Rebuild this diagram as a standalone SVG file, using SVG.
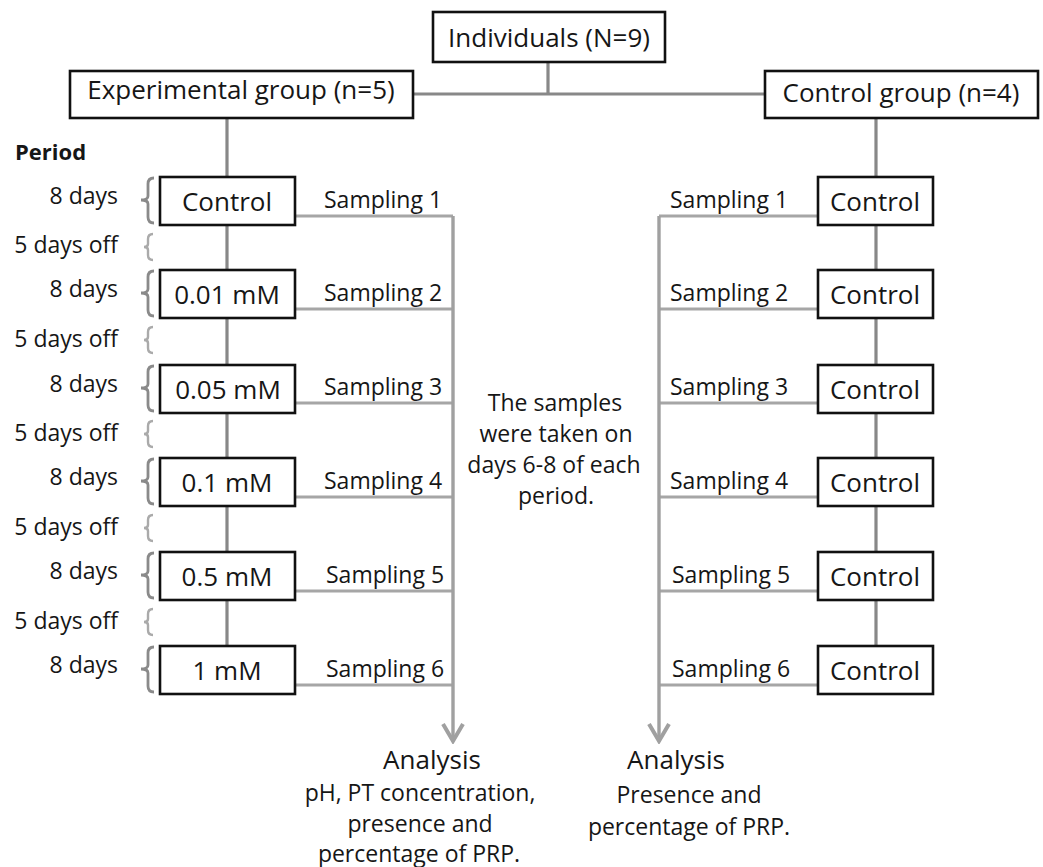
<svg xmlns="http://www.w3.org/2000/svg" width="1043" height="867" viewBox="0 0 1043 867">
<style>
text{font-family:"Open Sans","Noto Sans","Liberation Sans",sans-serif;fill:#161616}
.big{font-size:26px}
.sm{font-size:23px}
.mid{text-anchor:middle}
.end{text-anchor:end}
.box{fill:#fff;stroke:#111;stroke-width:2.6}
.main{stroke:#888;stroke-width:3.2;fill:none}
.samp{stroke:#a6a6a6;stroke-width:3.2;fill:none}
.arr{stroke:#a0a0a0;stroke-width:3.4;fill:none}
.br8{stroke:#8a8a8a;stroke-width:2.8;fill:none}
.br5{stroke:#aaaaaa;stroke-width:2.4;fill:none}
</style>
<defs>
<marker id="ah" markerUnits="userSpaceOnUse" viewBox="0 0 22 24" refX="19" refY="12" markerWidth="22" markerHeight="24" orient="auto">
<path d="M2,2 L19,12 L2,22" fill="none" stroke="#a0a0a0" stroke-width="4" stroke-linejoin="miter"/>
</marker>
</defs>
<rect width="1043" height="867" fill="#fff"/>

<g id="connectors">
<path class="main" d="M548,62 V94 M413,94 H765"/>
<path class="main" d="M227,118 V646"/>
<path class="main" d="M876,118 V646"/>
<path class="samp" d="M295,216 H453 M295,309 H453 M295,403 H453 M295,497 H453 M295,591 H453 M295,685 H453"/>
<path class="arr" d="M453,216 V741" marker-end="url(#ah)"/>
<path class="samp" d="M818,216 H659 M818,309 H659 M818,403 H659 M818,497 H659 M818,591 H659 M818,685 H659"/>
<path class="arr" d="M659,216 V741" marker-end="url(#ah)"/>
</g>

<g id="brackets">
<path class="br8" d="M154,178 Q148,178 148,184 V196 Q148,200 141,200 Q148,200 148,204 V217 Q148,223 154,223"/>
<path class="br8" d="M154,271 Q148,271 148,277 V289 Q148,293 141,293 Q148,293 148,297 V310 Q148,316 154,316"/>
<path class="br8" d="M154,366 Q148,366 148,372 V384 Q148,388 141,388 Q148,388 148,392 V405 Q148,411 154,411"/>
<path class="br8" d="M154,459 Q148,459 148,465 V477 Q148,481 141,481 Q148,481 148,485 V498 Q148,504 154,504"/>
<path class="br8" d="M154,553 Q148,553 148,559 V571 Q148,575 141,575 Q148,575 148,579 V592 Q148,598 154,598"/>
<path class="br8" d="M154,647 Q148,647 148,653 V665 Q148,669 141,669 Q148,669 148,673 V686 Q148,692 154,692"/>
<path class="br5" d="M153,234 Q148,234 148,239 V244 Q148,247 144,247 Q148,247 148,250 V255 Q148,260 153,260"/>
<path class="br5" d="M153,327 Q148,327 148,332 V337 Q148,340 144,340 Q148,340 148,343 V348 Q148,353 153,353"/>
<path class="br5" d="M153,421 Q148,421 148,426 V431 Q148,434 144,434 Q148,434 148,437 V442 Q148,447 153,447"/>
<path class="br5" d="M153,515 Q148,515 148,520 V525 Q148,528 144,528 Q148,528 148,531 V536 Q148,541 153,541"/>
<path class="br5" d="M153,609 Q148,609 148,614 V619 Q148,622 144,622 Q148,622 148,625 V630 Q148,635 153,635"/>
</g>

<g id="individuals"><rect class="box" x="433" y="12" width="232" height="50"/><text class="big mid" x="549" y="47">Individuals (N=9)</text></g>
<g id="experimental-group"><rect class="box" x="70" y="71" width="343" height="47"/><text class="big mid" x="241" y="99">Experimental group (n=5)</text></g>
<g id="control-group"><rect class="box" x="765" y="71" width="273" height="47"/><text class="big mid" x="901" y="102">Control group (n=4)</text></g>

<text id="period" x="15" y="160" style="font-size:22px;font-weight:bold">Period</text>

<g id="period-labels" class="sm">
<text class="sm end" x="118" y="204">8 days</text>
<text class="sm end" x="118" y="253">5 days off</text>
<text class="sm end" x="118" y="297">8 days</text>
<text class="sm end" x="118" y="347">5 days off</text>
<text class="sm end" x="118" y="392">8 days</text>
<text class="sm end" x="118" y="441">5 days off</text>
<text class="sm end" x="118" y="485">8 days</text>
<text class="sm end" x="118" y="535">5 days off</text>
<text class="sm end" x="118" y="579">8 days</text>
<text class="sm end" x="118" y="629">5 days off</text>
<text class="sm end" x="118" y="673">8 days</text>
</g>

<g id="exp-control"><rect class="box" x="160" y="177" width="135" height="48"/><text class="big mid" x="227" y="211">Control</text></g>
<g id="exp-001"><rect class="box" x="160" y="270" width="135" height="48"/><text class="big mid" x="227" y="304">0.01 mM</text></g>
<g id="exp-005"><rect class="box" x="160" y="365" width="135" height="48"/><text class="big mid" x="228" y="399">0.05 mM</text></g>
<g id="exp-01"><rect class="box" x="160" y="458" width="135" height="48"/><text class="big mid" x="227" y="492">0.1 mM</text></g>
<g id="exp-05"><rect class="box" x="160" y="552" width="135" height="48"/><text class="big mid" x="227" y="586">0.5 mM</text></g>
<g id="exp-1"><rect class="box" x="160" y="646" width="135" height="48"/><text class="big mid" x="227" y="680">1 mM</text></g>

<g id="ctl-1"><rect class="box" x="818" y="177" width="115" height="48"/><text class="big mid" x="875" y="211">Control</text></g>
<g id="ctl-2"><rect class="box" x="818" y="270" width="115" height="48"/><text class="big mid" x="875" y="304">Control</text></g>
<g id="ctl-3"><rect class="box" x="818" y="365" width="115" height="48"/><text class="big mid" x="875" y="399">Control</text></g>
<g id="ctl-4"><rect class="box" x="818" y="458" width="115" height="48"/><text class="big mid" x="875" y="492">Control</text></g>
<g id="ctl-5"><rect class="box" x="818" y="552" width="115" height="48"/><text class="big mid" x="875" y="586">Control</text></g>
<g id="ctl-6"><rect class="box" x="818" y="646" width="115" height="48"/><text class="big mid" x="875" y="680">Control</text></g>

<g id="sampling-left">
<text class="sm" x="324" y="208">Sampling 1</text>
<text class="sm" x="324" y="301">Sampling 2</text>
<text class="sm" x="324" y="395">Sampling 3</text>
<text class="sm" x="324" y="489">Sampling 4</text>
<text class="sm" x="326" y="583">Sampling 5</text>
<text class="sm" x="326" y="677">Sampling 6</text>
</g>
<g id="sampling-right">
<text class="sm" x="670" y="208">Sampling 1</text>
<text class="sm" x="670" y="301">Sampling 2</text>
<text class="sm" x="670" y="395">Sampling 3</text>
<text class="sm" x="670" y="489">Sampling 4</text>
<text class="sm" x="672" y="583">Sampling 5</text>
<text class="sm" x="672" y="677">Sampling 6</text>
</g>

<g id="note">
<text class="sm mid" x="555" y="411">The samples</text>
<text class="sm mid" x="556" y="442">were taken on</text>
<text class="sm mid" x="554" y="473">days 6-8 of each</text>
<text class="sm mid" x="556" y="504">period.</text>
</g>

<g id="analysis-left">
<text class="big mid" x="432" y="769">Analysis</text>
<text class="sm mid" x="420" y="801">pH, PT concentration,</text>
<text class="sm mid" x="420" y="832">presence and</text>
<text class="sm mid" x="419" y="862">percentage of PRP.</text>
</g>
<g id="analysis-right">
<text class="big mid" x="676" y="769">Analysis</text>
<text class="sm mid" x="689" y="803">Presence and</text>
<text class="sm mid" x="689" y="835">percentage of PRP.</text>
</g>
</svg>
